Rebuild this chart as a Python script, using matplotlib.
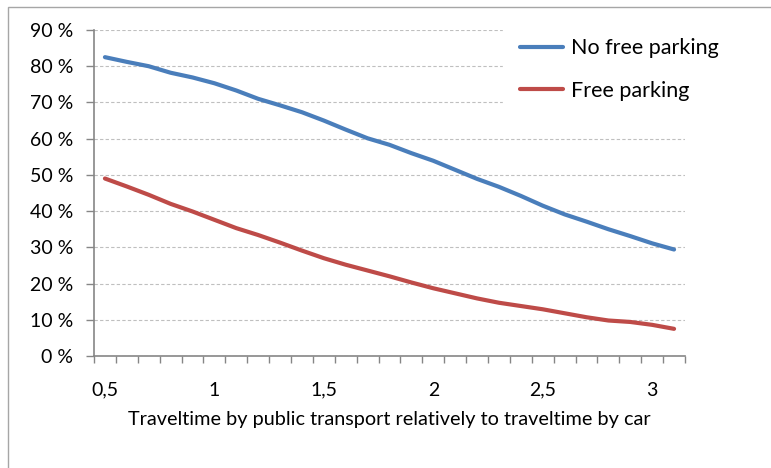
import numpy as np
import matplotlib.pyplot as plt
from matplotlib.patches import Rectangle
from matplotlib.ticker import FixedLocator, FuncFormatter

plt.rcParams['font.family'] = ['Lato', 'DejaVu Sans']

# ratio of travel time (public transport / car), one Excel category each
ratio = [0.5, 0.6, 0.7, 0.8, 0.9, 1.0, 1.1, 1.2, 1.3, 1.4, 1.5, 1.6, 1.7, 1.8,
         1.9, 2.0, 2.1, 2.2, 2.3, 2.4, 2.5, 2.6, 2.7, 2.8, 2.9, 3.0, 3.1]
no_free_parking = [82.5, 81.2, 80.0, 78.2, 76.9, 75.3, 73.3, 71.0, 69.2, 67.3,
                   65.0, 62.5, 60.1, 58.3, 56.0, 53.9, 51.4, 48.9, 46.7, 44.2,
                   41.5, 39.1, 37.1, 35.0, 33.1, 31.1, 29.4]
free_parking = [49.0, 46.8, 44.5, 42.0, 39.9, 37.6, 35.3, 33.4, 31.3, 29.1,
                27.0, 25.2, 23.6, 22.0, 20.3, 18.7, 17.3, 15.9, 14.7, 13.8,
                12.9, 11.8, 10.7, 9.8, 9.4, 8.6, 7.5]
x_labels = [0.5, 1.0, 1.5, 2.0, 2.5, 3.0]
y_ticks = [0, 10, 20, 30, 40, 50, 60, 70, 80, 90]

fig = plt.figure(figsize=(7.71, 4.68), dpi=100)
# chart area border (runs off the right and bottom edge in the original)
fig.patches.append(Rectangle((8 / 771, -0.1), 1.2, 1 - 7 / 468 + 0.1,
                             transform=fig.transFigure, fill=False,
                             edgecolor='#a6a6a6', linewidth=1.0))

ax = fig.add_axes([94 / 771, 1 - 356 / 468, 591 / 771, 326 / 468])

ax.plot(ratio, no_free_parking, color='#4a7ebb', lw=3, label='No free parking',
        solid_capstyle='round', zorder=3)
ax.plot(ratio, free_parking, color='#be4b48', lw=3, label='Free parking',
        solid_capstyle='round', zorder=3)

ax.set_xlim(ratio[0] - 0.05, ratio[-1] + 0.05)
ax.set_ylim(0, 90)

ax.yaxis.set_major_locator(FixedLocator(y_ticks))
ax.yaxis.set_major_formatter(FuncFormatter(lambda v, p: f'{int(v)} %'))
ax.grid(axis='y', color='#bfbfbf', linestyle=(0, (3, 2)), linewidth=0.8)

# category boundaries get tick marks, labels sit on category centres
bounds = np.arange(len(ratio) + 1) * 0.1 + ratio[0] - 0.05
ax.xaxis.set_minor_locator(FixedLocator(bounds))
ax.xaxis.set_major_locator(FixedLocator(x_labels))
ax.xaxis.set_major_formatter(FuncFormatter(lambda v, p: f'{v:g}'.replace('.', ',')))
ax.tick_params(axis='x', which='major', length=0, pad=18.5, labelsize=14)
ax.tick_params(axis='x', which='minor', length=5, color='#868686', width=1)
ax.tick_params(axis='y', length=6, color='#868686', width=1, labelsize=14, pad=9)

for s in ['top', 'right']:
    ax.spines[s].set_visible(False)
for s in ['left', 'bottom']:
    ax.spines[s].set_color('#868686')
    ax.spines[s].set_linewidth(1.2)

ax.set_xlabel('Traveltime by public transport relatively to traveltime by car',
              fontsize=14.3, labelpad=9)

leg = ax.legend(loc='upper left', bbox_to_anchor=(503 / 771, 1 - 21 / 468),
                bbox_transform=fig.transFigure, frameon=True, fontsize=15.5,
                handlelength=2.0, handletextpad=0.35, labelspacing=1.05,
                borderpad=0.8, borderaxespad=0, fancybox=False)
leg.get_frame().set_facecolor('white')
leg.get_frame().set_edgecolor('white')
leg.get_frame().set_alpha(1)

fig.savefig('out.png', dpi=100)
